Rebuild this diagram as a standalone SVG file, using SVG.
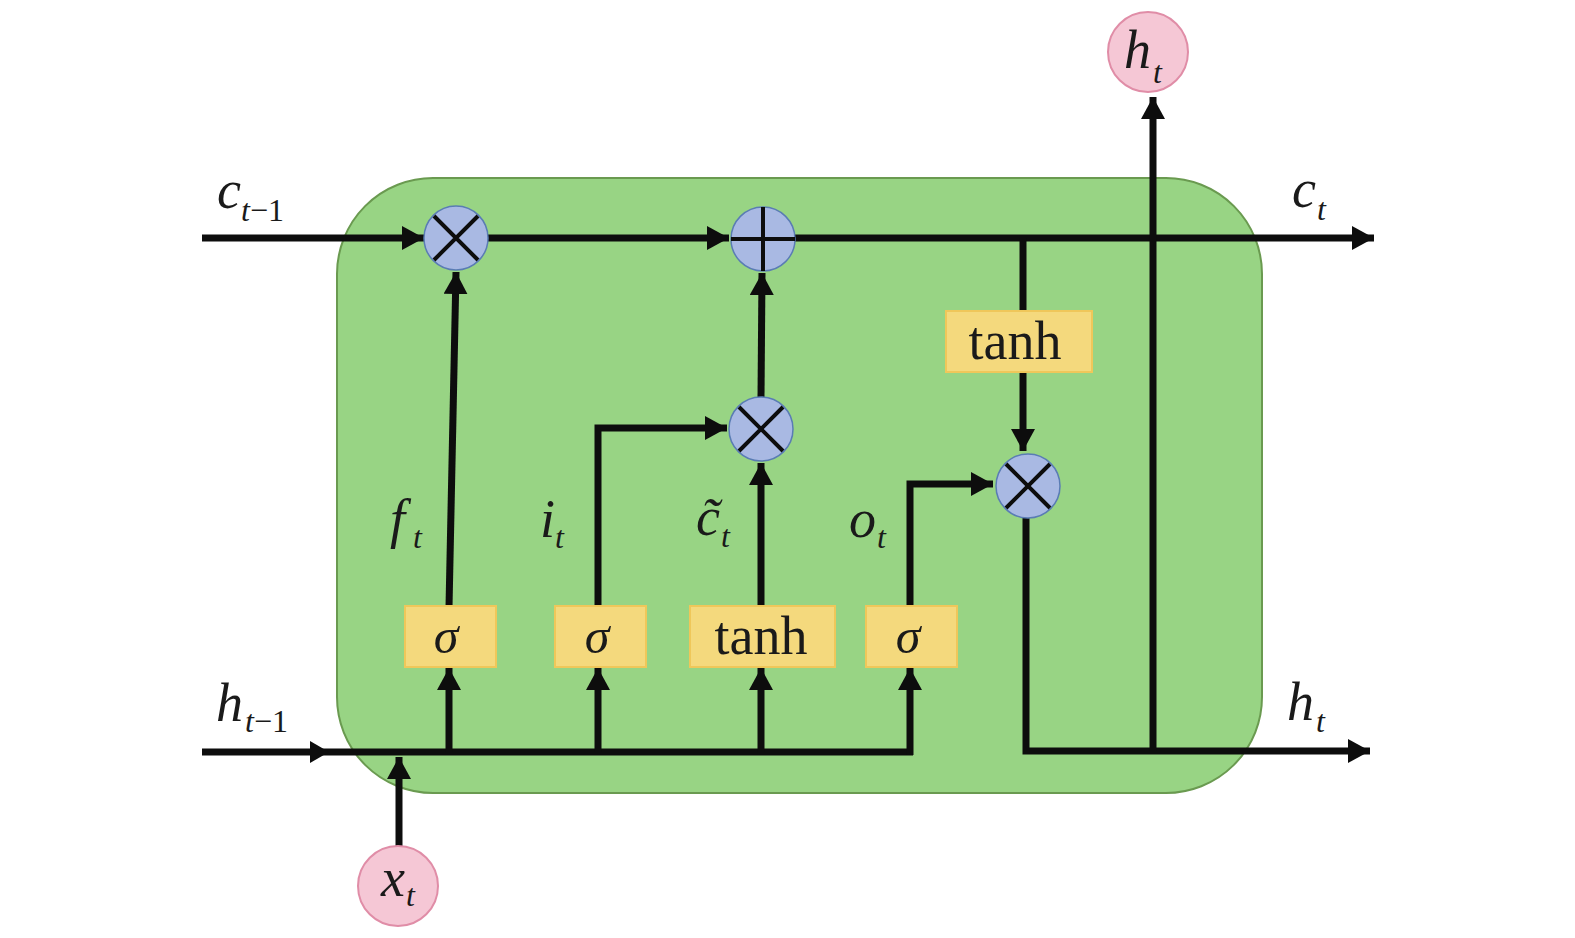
<svg xmlns="http://www.w3.org/2000/svg" width="1575" height="938" viewBox="0 0 1575 938">
<style>
.ln{stroke:#0d0d0d;stroke-width:7;fill:none}
.op{fill:#a9b9e3;stroke:#5a7cb4;stroke-width:1.5}
.opl{stroke:#0d0d0d;stroke-width:4;fill:none}
.box{fill:#f4d97d;stroke:#efc75a;stroke-width:2}
.io{fill:#f5c7d5;stroke:#e08da7;stroke-width:2}
.m{font-family:"Liberation Serif",serif;font-style:italic;fill:#1a1a1a;font-size:54px}
.s{font-family:"Liberation Serif",serif;font-style:italic;fill:#1a1a1a;font-size:32px}
.sr{font-family:"Liberation Serif",serif;fill:#1a1a1a;font-size:32px}
.r{font-family:"Liberation Serif",serif;fill:#1a1a1a;font-size:54px}
.g{font-family:"Liberation Serif",serif;font-style:italic;fill:#1a1a1a;font-size:50px}
</style>
<defs>
<marker id="ah" viewBox="0 0 22 24" refX="22" refY="12" markerWidth="22" markerHeight="24" markerUnits="userSpaceOnUse" orient="auto"><path d="M0,0 L22,12 L0,24 z" fill="#0d0d0d"/></marker>
</defs>
<rect x="0" y="0" width="1575" height="938" fill="#ffffff"/>
<g id="cell"><rect x="337" y="178" width="925" height="615" rx="96" ry="96" fill="#98d484" stroke="#6a9a50" stroke-width="2"/></g>

<g id="connectors">
<line class="ln" x1="202" y1="238" x2="424" y2="238" marker-end="url(#ah)"/>
<line class="ln" x1="488" y1="238" x2="729" y2="238" marker-end="url(#ah)"/>
<line class="ln" x1="795" y1="238" x2="1374" y2="238" marker-end="url(#ah)"/>
<line class="ln" x1="1023" y1="238" x2="1023" y2="311"/>
<line class="ln" x1="1023" y1="372" x2="1023" y2="451" marker-end="url(#ah)"/>
<polyline class="ln" points="1026,518 1026,751 1370,751" marker-end="url(#ah)"/>
<line class="ln" x1="1153" y1="751" x2="1153" y2="97" marker-end="url(#ah)"/>
<line class="ln" x1="449" y1="607" x2="456" y2="272" marker-end="url(#ah)"/>
<polyline class="ln" points="598,607 598,428 727,428" marker-end="url(#ah)"/>
<line class="ln" x1="761" y1="607" x2="761" y2="463" marker-end="url(#ah)"/>
<line class="ln" x1="761" y1="397" x2="762" y2="273" marker-end="url(#ah)"/>
<polyline class="ln" points="910,607 910,484 993,484" marker-end="url(#ah)"/>
<line class="ln" x1="202" y1="752" x2="913" y2="752"/>
<path d="M310,741 L329,752 L310,763 z" fill="#0d0d0d"/>
<line class="ln" x1="399" y1="846" x2="399" y2="757" marker-end="url(#ah)"/>
<line class="ln" x1="449" y1="752" x2="449" y2="668" marker-end="url(#ah)"/>
<line class="ln" x1="598" y1="752" x2="598" y2="668" marker-end="url(#ah)"/>
<line class="ln" x1="761" y1="752" x2="761" y2="668" marker-end="url(#ah)"/>
<line class="ln" x1="910" y1="755" x2="910" y2="668" marker-end="url(#ah)"/>
</g>

<g id="mul_f"><circle class="op" cx="456" cy="238" r="32"/><path class="opl" d="M434,216 L478,260 M478,216 L434,260"/></g>
<g id="add_c"><circle class="op" cx="763" cy="239" r="32"/><path class="opl" d="M763,207 L763,271 M731,239 L795,239"/></g>
<g id="mul_i"><circle class="op" cx="761" cy="429" r="32"/><path class="opl" d="M739,407 L783,451 M783,407 L739,451"/></g>
<g id="mul_o"><circle class="op" cx="1028" cy="486" r="32"/><path class="opl" d="M1006,464 L1050,508 M1050,464 L1006,508"/></g>

<g id="box_f"><rect class="box" x="405" y="606" width="91" height="61"/><text class="g" x="446" y="653" text-anchor="middle">σ</text></g>
<g id="box_i"><rect class="box" x="555" y="606" width="91" height="61"/><text class="g" x="597" y="653" text-anchor="middle">σ</text></g>
<g id="box_c"><rect class="box" x="690" y="606" width="145" height="61"/><text class="r" x="761" y="654" text-anchor="middle">tanh</text></g>
<g id="box_o"><rect class="box" x="866" y="606" width="91" height="61"/><text class="g" x="908" y="653" text-anchor="middle">σ</text></g>
<g id="box_tanh"><rect class="box" x="946" y="311" width="146" height="61"/><text class="r" x="1015" y="359" text-anchor="middle">tanh</text></g>

<g id="x_t"><circle class="io" cx="398" cy="886" r="40"/><text class="m" x="381" y="896">x</text><text class="s" x="406" y="906">t</text></g>
<g id="h_t_out"><circle class="io" cx="1148" cy="52" r="40"/><text class="m" x="1124" y="68">h</text><text class="s" x="1153" y="83">t</text></g>

<g id="labels">
<text class="m" x="217" y="208">c</text><text class="s" x="241" y="221">t</text><text class="sr" x="250" y="221">−1</text>
<text class="m" x="216" y="721">h</text><text class="s" x="245" y="732">t</text><text class="sr" x="254" y="732">−1</text>
<text class="m" x="1292" y="207">c</text><text class="s" x="1317" y="220">t</text>
<text class="m" x="1287" y="720">h</text><text class="s" x="1316" y="732">t</text>
<text class="m" x="390" y="537">f</text><text class="s" x="413" y="548">t</text>
<text class="m" x="540" y="537">i</text><text class="s" x="555" y="548">t</text>
<text class="m" x="696" y="535">c&#x303;</text><text class="s" x="721" y="547">t</text>
<text class="m" x="849" y="537">o</text><text class="s" x="877" y="548">t</text>
</g>
</svg>
